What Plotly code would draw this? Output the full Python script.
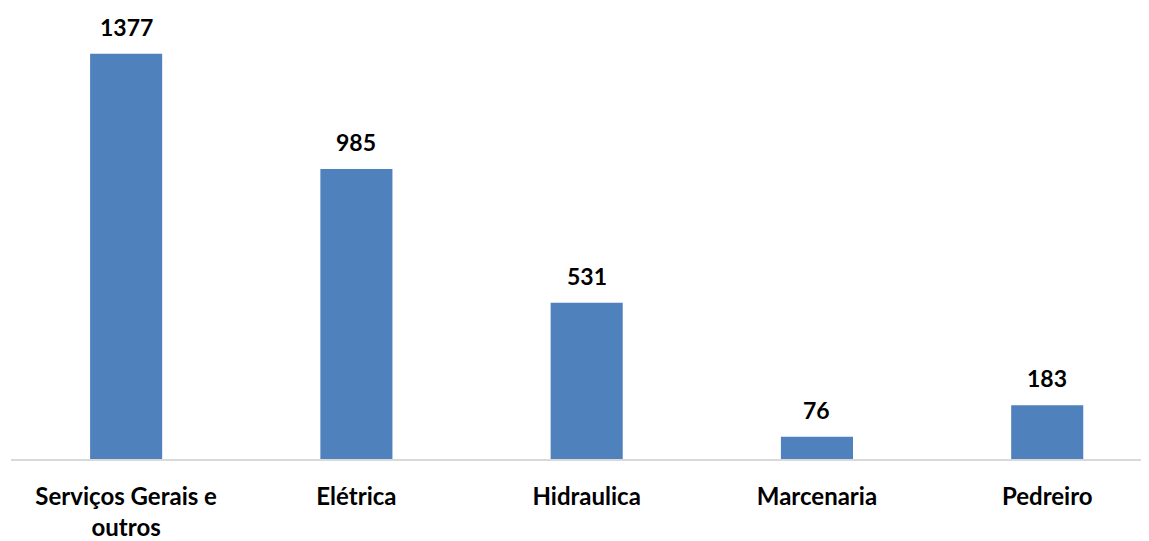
import plotly.graph_objects as go

categories = ["Serviços Gerais e<br>outros", "Elétrica", "Hidraulica", "Marcenaria", "Pedreiro"]
values = [1377, 985, 531, 76, 183]

FONT = "Lato"

fig = go.Figure()
fig.add_trace(go.Bar(
    x=list(range(len(categories))),
    y=values,
    marker=dict(color="#4F81BD", line=dict(width=0)),
    width=0.313,
))

for i, v in enumerate(values):
    fig.add_annotation(
        x=i, y=v, text=str(v), showarrow=False,
        yanchor="bottom", yshift=11,
        font=dict(family=FONT, size=23, color="black", weight="bold"),
    )

fig.update_layout(
    width=1141, height=533,
    margin=dict(l=3, r=0, t=0, b=78),
    paper_bgcolor="white", plot_bgcolor="white",
    showlegend=False,
    xaxis=dict(
        range=[-0.5, 4.442],
        tickmode="array",
        tickvals=list(range(len(categories))),
        ticktext=categories,
        showline=True, linecolor="#d9d9d9", linewidth=2,
        showgrid=False, zeroline=False, ticks="",
        ticklabelstandoff=15,
        tickfont=dict(family=FONT, size=24, color="black", weight="bold"),
    ),
    yaxis=dict(
        range=[0, 1532],
        visible=False, showgrid=False, zeroline=False,
    ),
)

fig.write_html("out.html")
